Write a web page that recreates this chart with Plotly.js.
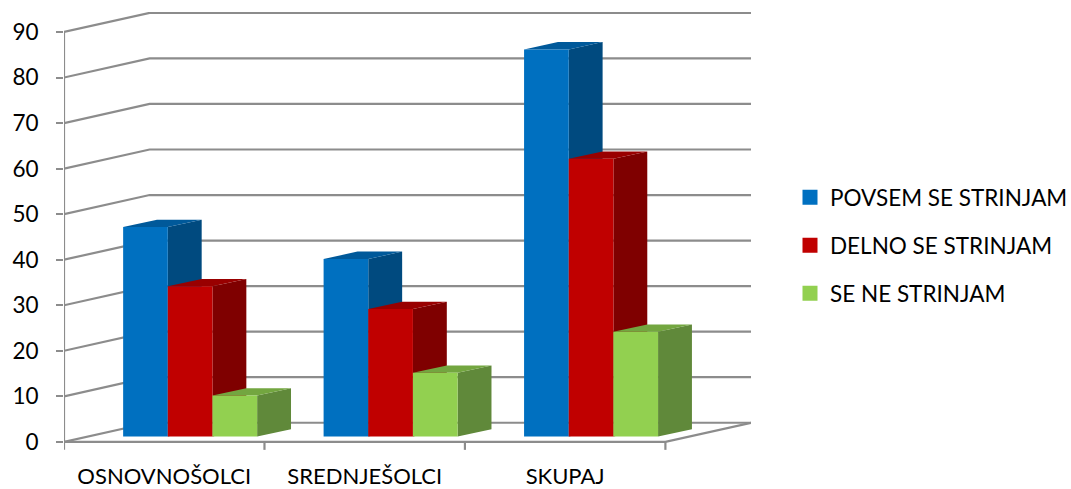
<!DOCTYPE html>
<html>
<head>
<meta charset="utf-8">
<script src="https://cdn.plot.ly/plotly-3.0.1.min.js"></script>
<style>html,body{margin:0;padding:0;background:#fff}#chart{width:1071px;height:489px}</style>
</head>
<body>
<div id="chart"></div>
<script>
// Survey answers by pupil group, drawn as oblique pseudo-3D columns.
var categories = ['OSNOVNOŠOLCI', 'SREDNJEŠOLCI', 'SKUPAJ'];
var seriesNames = ['POVSEM SE STRINJAM', 'DELNO SE STRINJAM', 'SE NE STRINJAM'];
var povsem = [46, 39, 85];
var delno = [33, 28, 61];
var neStrinjam = [9, 14, 23];
var yTicks = [0, 10, 20, 30, 40, 50, 60, 70, 80, 90];

var seriesValues = [povsem, delno, neStrinjam];
var frontColors = ['#0070C0', '#C00000', '#92D050'];
var sideColors = ['#004A7F', '#7F0000', '#60893A'];
var topColors = ['#00599A', '#990000', '#73A640'];
var gridColor = '#8C8C8C';
var fontFamily = 'Lato, Carlito, sans-serif';

// Geometry in axis units: one category is 1 on x, one percent is 1 on y.
var wallDx = 0.427, wallDy = 4.2;   // depth of the floor and back wall
var barDx = 0.169, barDy = 1.62;    // depth of a column
var barLead = 0.295, barW = 0.2228; // column offset inside a category and its width
var barBase = 1.16;                 // columns stand slightly behind the front edge
var tickDrop = 1.75;                // length of the category ticks below the floor
var yMin = -2, yMax = 94.39, xMax = 3 + wallDx;

function poly(xs, ys, color) {
  return {type: 'scatter', mode: 'lines', x: xs, y: ys, fill: 'toself', fillcolor: color,
          line: {width: 0, color: color}, hoverinfo: 'skip', showlegend: false, cliponaxis: false};
}

var traces = [];

// Back wall, floor, value axis and category ticks
var gx = [], gy = [];
yTicks.forEach(function (v) {
  gx.push(0, wallDx, 3 + wallDx, null);
  gy.push(v, v + wallDy, v + wallDy, null);
});
gx.push(0, 3, 3 + wallDx, null, 0, 0, null);
gy.push(0, 0, wallDy, null, 0, yTicks[yTicks.length - 1], null);
[0, 1, 2, 3].forEach(function (k) {
  gx.push(k, k, null);
  gy.push(0, -tickDrop, null);
});
traces.push({type: 'scatter', mode: 'lines', x: gx, y: gy, cliponaxis: false, hoverinfo: 'skip',
             showlegend: false, line: {color: gridColor, width: 2.2}});

// Side and top faces, left to right so nearer columns cover farther ones
categories.forEach(function (c, i) {
  seriesValues.forEach(function (vals, s) {
    var x0 = i + barLead + s * barW, x1 = x0 + barW;
    var t = barBase + vals[i];
    traces.push(poly([x1, x1 + barDx, x1 + barDx, x1, x1],
                     [barBase, barBase + barDy, t + barDy, t, barBase], sideColors[s]));
    traces.push(poly([x0, x0 + barDx, x1 + barDx, x1, x0],
                     [t, t + barDy, t + barDy, t, t], topColors[s]));
  });
});

// Legend keys: the outline widens the swatch
seriesNames.forEach(function (name, s) {
  traces.push({type: 'bar', name: name, legendgroup: name, x: [0.5], y: [null], hoverinfo: 'skip',
               marker: {color: frontColors[s], line: {color: frontColors[s], width: 3}}});
});

// Front faces sit on the overlaid axes, above all the other faces
seriesValues.forEach(function (vals, s) {
  traces.push({type: 'bar', name: seriesNames[s], legendgroup: seriesNames[s], showlegend: false,
               xaxis: 'x2', yaxis: 'y2', width: barW, base: barBase,
               x: categories.map(function (c, i) { return i + barLead + (s + 0.5) * barW; }),
               y: vals, customdata: categories,
               hovertemplate: '%{customdata}: %{y}<extra>' + seriesNames[s] + '</extra>',
               marker: {color: frontColors[s], line: {width: 0}}});
});

var layout = {
  width: 1071, height: 489,
  margin: {l: 63.5, r: 320, t: 12, b: 37.9, pad: 0},
  paper_bgcolor: '#fff', plot_bgcolor: '#fff',
  barmode: 'overlay',
  showlegend: true,
  font: {family: fontFamily, color: '#000'},
  xaxis: {range: [0, xMax], showticklabels: false, ticks: '',
          showgrid: false, zeroline: false, showline: false, fixedrange: true},
  yaxis: {range: [yMin, yMax], tickmode: 'array', tickvals: yTicks,
          ticks: 'outside', ticklen: 7, tickwidth: 2, tickcolor: gridColor,
          ticklabelstandoff: 13, tickfont: {size: 22.5, color: '#000'},
          showgrid: false, zeroline: false, showline: false, fixedrange: true},
  xaxis2: {overlaying: 'x', anchor: 'y2', range: [0, xMax], tickmode: 'array',
           tickvals: [0.5, 1.5, 2.5], ticktext: categories, ticks: '', ticklabelstandoff: 10,
           tickfont: {size: 22, color: '#000'}, showgrid: false, zeroline: false, showline: false,
           fixedrange: true, tickangle: 0},
  yaxis2: {overlaying: 'y', anchor: 'x2', range: [yMin, yMax], showticklabels: false, ticks: '',
           showgrid: false, zeroline: false, showline: false, fixedrange: true},
  legend: {xref: 'container', yref: 'container', x: 790 / 1071, y: 1 - 176 / 489,
           xanchor: 'left', yanchor: 'top', bgcolor: 'rgba(0,0,0,0)', borderwidth: 0,
           font: {size: 22.5, color: '#000'}, tracegroupgap: 15.8,
           itemclick: false, itemdoubleclick: false}
};

Plotly.newPlot('chart', traces, layout, {displayModeBar: false, responsive: false});
</script>
</body>
</html>
